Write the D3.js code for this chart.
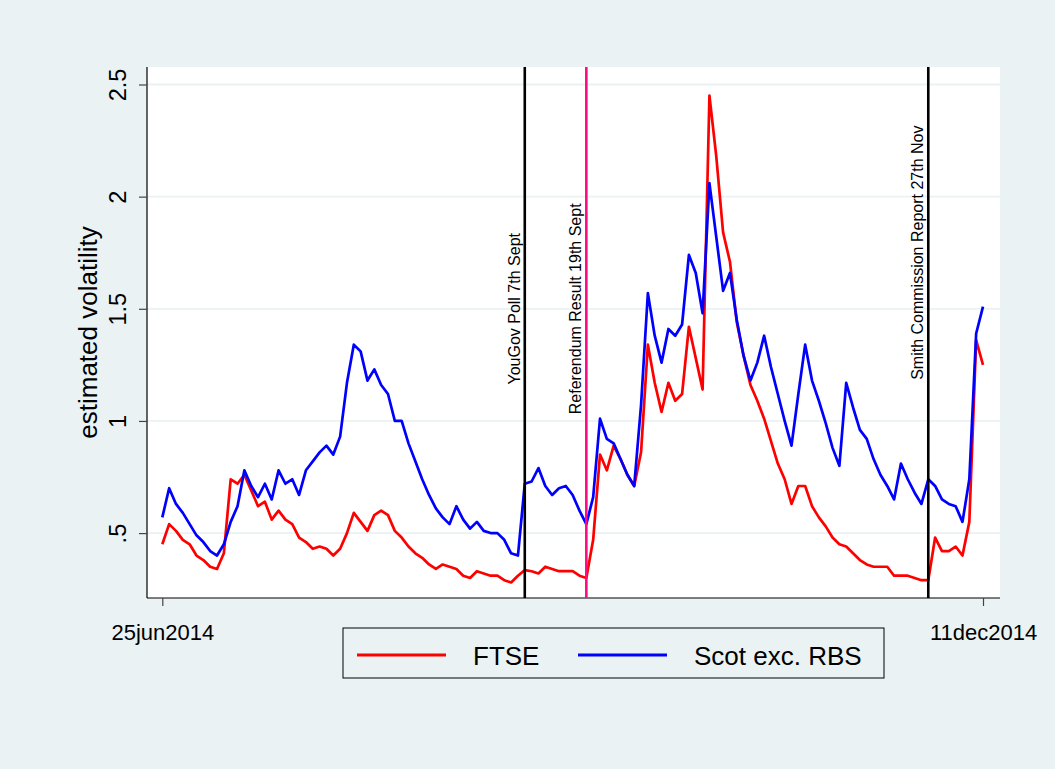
<!DOCTYPE html>
<html>
<head>
<meta charset="utf-8">
<script src="https://cdn.jsdelivr.net/npm/d3@7"></script>
<style>
  html, body { margin: 0; padding: 0; background: #EAF2F3; }
  svg { display: block; font-family: "Liberation Sans", Arial, Helvetica, sans-serif; }
</style>
</head>
<body>
<div id="chart"></div>
<script>
// Trading-day observations, 25jun2014 .. 11dec2014 (index 0..120)
const seriesNames = ["FTSE", "Scot exc. RBS"];
const seriesColors = ["#FF0000", "#0000FF"];

const ftse = [
  0.45, 0.54, 0.51, 0.47, 0.45, 0.40, 0.38, 0.35, 0.34, 0.41,
  0.74, 0.72, 0.76, 0.69, 0.62, 0.64, 0.56, 0.60, 0.56, 0.54,
  0.48, 0.46, 0.43, 0.44, 0.43, 0.40, 0.43, 0.50, 0.59, 0.55,
  0.51, 0.58, 0.60, 0.58, 0.51, 0.48, 0.44, 0.41, 0.39, 0.36,
  0.34, 0.36, 0.35, 0.34, 0.31, 0.30, 0.33, 0.32, 0.31, 0.31,
  0.29, 0.28, 0.31, 0.335, 0.33, 0.32, 0.35, 0.34, 0.33, 0.33,
  0.33, 0.31, 0.30, 0.47, 0.85, 0.78, 0.89, 0.83, 0.76, 0.71,
  0.86, 1.34, 1.17, 1.04, 1.17, 1.09, 1.12, 1.42, 1.28, 1.14,
  2.45, 2.18, 1.84, 1.71, 1.44, 1.29, 1.16, 1.09, 1.01, 0.91,
  0.81, 0.74, 0.63, 0.71, 0.71, 0.62, 0.57, 0.53, 0.48, 0.45,
  0.44, 0.41, 0.38, 0.36, 0.35, 0.35, 0.35, 0.31, 0.31, 0.31,
  0.30, 0.29, 0.29, 0.48, 0.42, 0.42, 0.44, 0.40, 0.55, 1.36, 1.25
];

const scotExRbs = [
  0.57, 0.70, 0.63, 0.59, 0.54, 0.49, 0.46, 0.42, 0.40, 0.45,
  0.55, 0.62, 0.78, 0.71, 0.66, 0.72, 0.65, 0.78, 0.72, 0.74,
  0.67, 0.78, 0.82, 0.86, 0.89, 0.85, 0.93, 1.17, 1.34, 1.31,
  1.18, 1.23, 1.16, 1.12, 1.00, 1.00, 0.90, 0.82, 0.74, 0.67,
  0.61, 0.57, 0.54, 0.62, 0.56, 0.52, 0.55, 0.51, 0.50, 0.50,
  0.47, 0.41, 0.40, 0.72, 0.73, 0.79, 0.71, 0.67, 0.70, 0.71,
  0.67, 0.60, 0.54, 0.66, 1.01, 0.92, 0.90, 0.83, 0.76, 0.71,
  1.07, 1.57, 1.38, 1.26, 1.41, 1.38, 1.43, 1.74, 1.66, 1.48,
  2.06, 1.82, 1.58, 1.66, 1.45, 1.29, 1.18, 1.26, 1.38, 1.24,
  1.12, 1.00, 0.89, 1.12, 1.34, 1.18, 1.09, 0.99, 0.88, 0.80,
  1.17, 1.06, 0.96, 0.92, 0.83, 0.76, 0.71, 0.65, 0.81, 0.74,
  0.68, 0.63, 0.74, 0.71, 0.65, 0.63, 0.62, 0.55, 0.74, 1.39, 1.51
];

// x-axis ticks: observation index and its date label
const xTickIndex = [0, 120];
const xTickLabels = ["25jun2014", "11dec2014"];

// y-axis ticks
const yTicks = [0.5, 1, 1.5, 2, 2.5];
const yTickLabels = [".5", "1", "1.5", "2", "2.5"];

// event markers: observation index, label, label centre (y units), colour
const eventIndex = [53, 62, 112];
const eventLabels = ["YouGov Poll 7th Sept", "Referendum Result 19th Sept", "Smith Commission Report 27th Nov"];
const eventLabelY = [1.5, 1.5, 1.75];
const eventColors = ["#000000", "#FF0A80", "#000000"];

const W = 1055, H = 769;
const plot = { left: 147, right: 1000, top: 67, bottom: 598 };

const svg = d3.select("#chart").append("svg")
  .attr("width", W).attr("height", H);

svg.append("rect").attr("width", W).attr("height", H).attr("fill", "#EAF2F3");
svg.append("rect")
  .attr("x", plot.left).attr("y", plot.top)
  .attr("width", plot.right - plot.left).attr("height", plot.bottom - plot.top)
  .attr("fill", "#FFFFFF");

const x = d3.scaleLinear().domain([0, 120]).range([162.3, 983]);
const y = d3.scaleLinear().domain([0.2106, 2.578]).range([plot.bottom, plot.top]);

// gridlines
svg.append("g").selectAll("line").data(yTicks).join("line")
  .attr("x1", plot.left).attr("x2", plot.right)
  .attr("y1", d => y(d)).attr("y2", d => y(d))
  .attr("stroke", "#EAF2F3").attr("stroke-width", 1.8);

// y axis
const yAxis = d3.axisLeft(y).tickValues(yTicks).tickSize(8)
  .tickFormat((d, i) => yTickLabels[i]);
const gy = svg.append("g").attr("transform", `translate(${plot.left},0)`).call(yAxis);
gy.select(".domain").attr("stroke", "#000").attr("stroke-width", 1.2)
  .attr("d", `M0,${plot.top}V${plot.bottom}`);
gy.selectAll(".tick line").attr("stroke", "#444").attr("stroke-width", 1.2);
gy.selectAll(".tick text")
  .attr("x", null).attr("dy", null)
  .attr("transform", "translate(-21,0) rotate(-90)")
  .attr("text-anchor", "middle")
  .attr("font-size", 23.5).attr("fill", "#000")
  .style("font-family", '"Liberation Sans", Arial, sans-serif');

// x axis
const xAxis = d3.axisBottom(x).tickValues(xTickIndex).tickSize(8)
  .tickFormat((d, i) => xTickLabels[i]);
const gx = svg.append("g").attr("transform", `translate(0,${plot.bottom})`).call(xAxis);
gx.select(".domain").attr("stroke", "#000").attr("stroke-width", 1.2)
  .attr("d", `M${plot.left},0H${plot.right}`);
gx.selectAll(".tick line").attr("stroke", "#444").attr("stroke-width", 1.2);
gx.selectAll(".tick text")
  .attr("y", 42).attr("dy", null)
  .attr("font-size", 22).attr("fill", "#000")
  .style("font-family", '"Liberation Sans", Arial, sans-serif');

// y title
svg.append("text")
  .attr("transform", `translate(97,${(plot.top + plot.bottom) / 2}) rotate(-90)`)
  .attr("text-anchor", "middle")
  .attr("font-size", 26)
  .text("estimated volatility");

// series lines
const line = d3.line().x((d, i) => x(i)).y(d => y(d));
[ftse, scotExRbs].forEach((s, k) => {
  svg.append("path").datum(s)
    .attr("d", line)
    .attr("fill", "none")
    .attr("stroke", seriesColors[k])
    .attr("stroke-width", 2.7)
    .attr("stroke-linejoin", "round");
});

// event lines and labels
const ev = svg.append("g").selectAll("g").data(eventIndex).join("g");
ev.append("line")
  .attr("x1", d => x(d)).attr("x2", d => x(d))
  .attr("y1", plot.top).attr("y2", plot.bottom)
  .attr("stroke", (d, i) => eventColors[i])
  .attr("stroke-width", 2.6);
ev.append("text")
  .attr("transform", (d, i) => `translate(${x(d) - 5},${y(eventLabelY[i])}) rotate(-90)`)
  .attr("text-anchor", "middle")
  .attr("font-size", 16)
  .attr("fill", "#000")
  .text((d, i) => eventLabels[i]);

// legend
const legend = svg.append("g");
legend.append("rect")
  .attr("x", 343).attr("y", 628).attr("width", 541).attr("height", 50)
  .attr("fill", "#EAF2F3").attr("stroke", "#000").attr("stroke-width", 1);
const legX = [357, 578];
const items = legend.selectAll("g.item").data(seriesNames).join("g")
  .attr("class", "item")
  .attr("transform", (d, i) => `translate(${legX[i]},655)`);
items.append("line")
  .attr("x1", 0).attr("x2", 89).attr("y1", 0).attr("y2", 0)
  .attr("stroke", (d, i) => seriesColors[i]).attr("stroke-width", 2.8);
items.append("text")
  .attr("x", 116).attr("y", 9.5)
  .attr("font-size", 26)
  .text(d => d);
</script>
</body>
</html>
